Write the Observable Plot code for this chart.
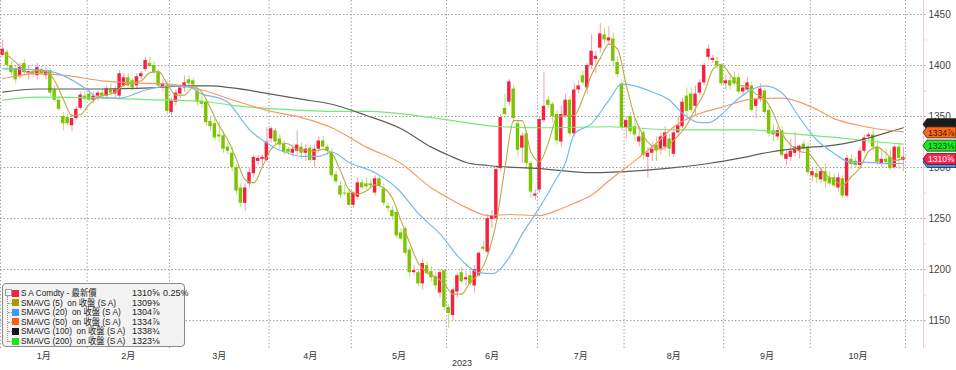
<!DOCTYPE html>
<html><head><meta charset="utf-8">
<script src="https://cdn.jsdelivr.net/npm/d3@7"></script>
<script src="https://cdn.jsdelivr.net/npm/@observablehq/plot@0.6"></script>
<style>
body{margin:0;background:#fff;}
#wrap{position:relative;width:956px;height:370px;overflow:hidden;font-family:"Liberation Sans","Noto Sans CJK TC",sans-serif;}
#legend{position:absolute;left:2px;top:283px;width:183px;height:64px;background:#f3f3f3;border:1px solid #8a8a8a;border-radius:4px;box-sizing:border-box;font-size:9px;color:#222;}
#legend .row{position:absolute;left:0;height:10px;line-height:10px;white-space:pre;width:180px;}
#legend .sq{position:absolute;left:9px;top:1.5px;width:7px;height:7px;}
#legend .lab{position:absolute;left:18px;top:0;transform:scaleX(0.92);transform-origin:0 50%;}
#legend .val{position:absolute;left:129px;top:0;}
#legend .pct{position:absolute;left:160px;top:0;}
#legend .tree{position:absolute;left:4px;top:12px;width:0;height:46px;border-left:1px dotted #999;}
#legend .tick{position:absolute;left:5px;width:4px;height:0;border-top:1px dotted #999;}
#legend .box{position:absolute;left:1.5px;top:5px;width:5px;height:5px;border:1px solid #999;background:#fff;font-size:6px;line-height:5px;text-align:center;color:#666;}
</style></head><body><div id="wrap"></div>
<script>
// ---- data ----
const monthLabels = ["1月","2月","3月","4月","5月","6月","7月","8月","9月","10月"];
const monthDays   = [20,19,23,19,22,21,20,23,20,22];
const yearLabel = "2023";
const yTicks = [1150,1200,1250,1300,1350,1400,1450];

const opens = [1410,1413,1400,1397,1389,1402,1392,1394,1390,1396,1390,1395,1376,1366,1350,1349,1341,1348,1358,1370,
1372,1366,1370,1373,1370,1376,1372,1370,1380,1388,1385,1380,1389,1396,1402,1400,1393,1378,1380,
1354,1364,1372,1378,1386,1385,1375,1365,1364,1345,1343,1332,1331,1320,1314,1300,1280,1265,1284,1294,1306,1308,1307,
1328,1336,1328,1323,1318,1314,1316,1320,1314,1319,1307,1318,1326,1320,1315,1293,1282,1275,1275,
1263,1271,1285,1284,1284,1275,1289,1279,1262,1258,1256,1236,1240,1219,1197,1197,1186,1204,1198,1193,1177,1199,
1163,1155,1178,1197,1190,1194,1184,1194,1222,1217,1249,1250,1299,1358,1364,1377,1343,1319,1333,1304,1272,
1278,1346,1366,1362,1352,1325,1350,1366,1333,1376,1390,1378,1400,1406,1417,1430,1424,1426,1403,1382,
1339,1350,1340,1325,1334,1310,1314,1322,1318,1320,1328,1313,1334,1340,1370,1372,1360,1373,1383,1408,1405,1404,1400,
1382,1385,1388,1388,1374,1376,1380,1360,1367,1375,1356,1336,1330,1336,1308,1310,1314,1316,1323,1320,
1292,1294,1288,1296,1290,1290,1280,1289,1272,1308,1306,1302,1316,1330,1332,1320,1303,1308,1310,1300,1320,1307];
const highs = [1425,1415,1404,1400,1402,1406,1400,1396,1402,1399,1398,1397,1380,1370,1354,1352,1352,1360,1374,1375,
1376,1374,1375,1377,1380,1382,1379,1395,1392,1392,1388,1392,1394,1408,1408,1404,1396,1386,1384,
1368,1376,1381,1390,1390,1388,1378,1370,1367,1350,1348,1345,1335,1324,1320,1303,1284,1284,1300,1312,1312,1312,1339,
1340,1338,1332,1326,1320,1322,1336,1324,1322,1322,1322,1330,1330,1322,1318,1296,1286,1284,1278,
1276,1290,1288,1290,1288,1292,1292,1284,1266,1262,1258,1240,1242,1222,1204,1200,1210,1208,1203,1197,1200,1200,
1166,1182,1196,1202,1198,1200,1204,1218,1228,1254,1258,1302,1352,1372,1386,1380,1346,1334,1336,1306,1278,
1350,1393,1370,1364,1356,1360,1372,1370,1382,1385,1395,1402,1430,1414,1441,1436,1438,1432,1408,1386,
1350,1354,1348,1340,1336,1320,1325,1330,1334,1340,1332,1340,1350,1368,1378,1378,1380,1386,1402,1420,1410,1408,1402,
1390,1390,1394,1392,1380,1388,1384,1368,1382,1378,1360,1342,1340,1340,1316,1328,1335,1322,1326,1324,
1300,1298,1300,1304,1296,1294,1294,1292,1312,1312,1310,1320,1332,1334,1338,1326,1316,1318,1318,1322,1324,1320];
const lows = [1408,1395,1390,1382,1387,1390,1386,1388,1386,1390,1386,1370,1364,1355,1336,1341,1335,1346,1356,1364,
1364,1363,1365,1368,1368,1370,1368,1366,1378,1378,1375,1376,1386,1394,1398,1391,1378,1374,1352,
1350,1360,1368,1374,1380,1378,1360,1358,1340,1336,1326,1325,1314,1312,1296,1274,1261,1257,1280,1290,1302,1300,1305,
1324,1322,1318,1312,1312,1310,1312,1308,1306,1304,1300,1314,1318,1312,1290,1284,1270,1272,1262,
1260,1268,1278,1278,1279,1272,1280,1262,1256,1248,1230,1228,1214,1192,1194,1183,1180,1194,1188,1180,1172,1160,
1142,1150,1172,1186,1184,1184,1177,1192,1218,1215,1240,1248,1296,1348,1360,1344,1310,1304,1298,1270,1268,
1275,1344,1358,1344,1322,1320,1348,1330,1330,1372,1380,1372,1396,1392,1412,1420,1420,1400,1388,1336,
1328,1332,1326,1320,1307,1290,1306,1306,1312,1316,1310,1310,1330,1338,1350,1354,1350,1370,1380,1405,1402,1396,1380,
1376,1376,1380,1372,1370,1374,1354,1348,1364,1352,1330,1325,1326,1310,1302,1306,1310,1308,1316,1292,
1286,1284,1284,1280,1282,1280,1276,1270,1270,1298,1300,1298,1314,1326,1316,1302,1300,1302,1297,1298,1298,1296];
const closes = [1416,1400,1393,1386,1398,1393,1394,1391,1398,1392,1395,1373,1366,1357,1343,1343,1348,1357,1371,1367,
1366,1370,1373,1370,1377,1373,1376,1392,1388,1380,1378,1389,1392,1405,1399,1393,1380,1382,1355,
1366,1373,1378,1383,1382,1381,1364,1362,1344,1340,1329,1330,1318,1316,1300,1277,1265,1280,1295,1310,1309,1310,1325,
1338,1325,1322,1315,1315,1318,1322,1314,1318,1307,1318,1326,1320,1316,1292,1286,1273,1274,1263,
1275,1285,1280,1281,1282,1289,1282,1265,1260,1252,1233,1230,1216,1197,1199,1186,1206,1196,1192,1184,1197,1163,
1157,1180,1194,1188,1192,1186,1200,1216,1220,1250,1252,1298,1349,1352,1384,1348,1317,1331,1304,1276,1274,
1347,1360,1361,1350,1326,1352,1366,1333,1376,1380,1383,1400,1414,1409,1431,1425,1427,1404,1391,1339,
1346,1335,1332,1330,1312,1314,1318,1316,1330,1334,1318,1334,1341,1364,1355,1356,1372,1383,1400,1416,1407,1400,1382,
1385,1380,1382,1374,1378,1383,1356,1367,1377,1354,1333,1332,1336,1312,1313,1316,1320,1321,1318,1295,
1296,1290,1296,1286,1284,1282,1290,1272,1309,1303,1302,1316,1329,1332,1320,1305,1308,1305,1299,1320,1309,1310];

// moving averages (trading-day index, value)
const sma5At = [0,2,4,6,8,10,12,14,16,18,20,22,24,26,28,30,32,34,36,38,40,42,44,46,48,50,52,54,56,58,60,62,64,66,68,70,72,74,76,78,80,82,84,86,88,90,92,94,96,98,100,102,104,106,108,110,112,114,116,118,120,122,124,126,128,130,132,134,136,138,140,142,144,146,148,150,152,154,156,158,160,162,164,166,168,170,172,174,176,178,180,182,184,186,188,190,192,194,196,198,200,202,204,206,208];
const sma5 = [1413,1407,1399,1393,1395,1394,1385,1367,1351,1352,1362,1369,1371,1374,1381,1383,1385,1393,1394,1382,1371,1371,1379,1374,1358,1341,1327,1308,1288,1285,1301,1318,1324,1323,1318,1317,1316,1318,1314,1297,1278,1274,1277,1283,1280,1270,1248,1226,1206,1197,1193,1186,1176,1176,1188,1196,1214,1247,1300,1346,1346,1315,1306,1324,1349,1351,1351,1368,1391,1407,1421,1416,1381,1349,1331,1321,1318,1323,1331,1342,1358,1373,1396,1401,1391,1381,1379,1372,1367,1353,1333,1322,1316,1314,1304,1293,1288,1283,1291,1300,1316,1320,1314,1307,1309];
const sma20At = [0,10,19,22,27,33,39,43,46,50,52,55,57,60,63,66,69,73,76,80,86,91,96,101,106,110,113,117,120,124,128,130,132,136,140,143,146,150,154,157,161,163,167,170,176,180,184,188,192,196,200,204,208];
const sma20 = [1397,1395,1378,1369,1368,1376,1380,1379,1372,1368,1364,1348,1337,1327,1319,1314,1311,1311,1315,1305,1295,1280,1255,1235,1209,1197,1196,1212,1235,1261,1290,1305,1333,1343,1366,1382,1380,1374,1366,1353,1344,1344,1356,1368,1380,1373,1349,1327,1314,1305,1305,1304,1304];
const sma50At = [0,8,15,23,30,38,46,54,62,69,76,84,92,99,103,107,112,117,124,128,132,136,140,147,151,155,161,166,173,180,187,192,198,208];
const sma50 = [1387,1392,1390,1385,1383,1382,1376,1365,1355,1349,1339,1320,1304,1280,1270,1261,1253,1254,1253,1258,1265,1273,1287,1310,1324,1340,1353,1359,1367,1368,1359,1348,1341,1335];
const sma100At = [0,8,23,34,43,48,53,62,69,76,84,92,99,103,107,112,124,136,147,155,163,170,177,184,192,196,200,204,208];
const sma100 = [1374,1377,1377,1378,1380,1380,1378,1372,1367,1362,1351,1338,1320,1312,1305,1302,1299,1295,1297,1300,1304,1309,1315,1319,1322,1325,1329,1334,1339];
const sma200At = [0,8,23,30,38,46,53,61,69,76,84,99,107,115,124,140,155,173,180,188,196,200,208];
const sma200 = [1366,1369,1368,1367,1366,1365,1361,1358,1356,1355,1355,1349,1344,1340,1339,1340,1337,1337,1334,1331,1328,1326,1323];

// legend / tag texts
const seriesNames = ["S A Comdty - 最新價","SMAVG (5)  on 收盤 (S A)","SMAVG (20)  on 收盤 (S A)","SMAVG (50)  on 收盤 (S A)","SMAVG (100)  on 收盤 (S A)","SMAVG (200)  on 收盤 (S A)"];
const lastLabels = ["1310⅝","1309⅜","1304⅞","1334⅞","1338¾","1323⅛"];
const pctChange = "0.25%";
const seriesColors = ["#f5213f","#a59b06","#3d9bf5","#ff5e0e","#151515","#19e619"];
const lineColors  = ["#b9ab45","#79b9f0","#f79a63","#5e5e55","#74ea74"];

// ---- build ----
const RED = "#f8203f", GREEN = "#7cc400", RED_W = "#f59db0", GREEN_W = "#b7df6f";
const N = closes.length;
const candles = d3.range(N).map(i => ({i, o: opens[i], h: highs[i], l: lows[i], c: closes[i], up: closes[i] >= opens[i]}));
const cum = [0]; monthDays.forEach(d => cum.push(cum[cum.length-1] + d));
const bounds = cum.map(c => c - 0.5);
const mids = monthDays.map((d, k) => cum[k] + d / 2 - 0.5);
const pts = (at, vals) => at.map((i, k) => ({i, v: vals[k]}));
const xMin = -0.508, xMax = 212.65;

const chart = Plot.plot({
  width: 956, height: 370,
  marginLeft: 0, marginRight: 33, marginTop: 0, marginBottom: 22,
  style: {background: "transparent", fontFamily: "Liberation Sans, Noto Sans CJK TC, sans-serif", overflow: "visible"},
  x: {domain: [xMin, xMax], axis: null},
  y: {domain: [1122.7, 1463.7], axis: null},
  color: {type: "identity"},
  marks: [
    Plot.ruleY(yTicks, {stroke: "#9a9a9a", strokeDasharray: "1.5,2", strokeWidth: 1, insetRight: -4}),
    Plot.ruleX(bounds, {stroke: "#a5a5a5", strokeDasharray: "1.5,2", strokeWidth: 1}),
    Plot.ruleX([xMax], {stroke: "#f8cdd1", strokeWidth: 1}),
    Plot.ruleY([1125,1175,1225,1275,1325,1375,1425], {x1: xMax, x2: xMax + 0.8, stroke: "#f8cdd1"}),
    Plot.ruleX(candles, {x: "i", y1: "l", y2: "h", stroke: d => d.up ? RED_W : GREEN_W, strokeWidth: 1}),
    Plot.rect(candles, {x1: d => d.i - 0.5, x2: d => d.i + 0.5, y1: "o", y2: d => Math.abs(d.c - d.o) < 1 ? d.o + (d.up ? 1 : -1) : d.c,
      fill: d => d.up ? RED : GREEN, insetLeft: 0.45, insetRight: 0.45}),
    Plot.line(pts(sma200At, sma200), {x: "i", y: "v", stroke: lineColors[4], strokeWidth: 1.2, curve: "monotone-x"}),
    Plot.line(pts(sma100At, sma100), {x: "i", y: "v", stroke: lineColors[3], strokeWidth: 1.2, curve: "monotone-x"}),
    Plot.line(pts(sma50At, sma50), {x: "i", y: "v", stroke: lineColors[2], strokeWidth: 1.2, curve: "monotone-x"}),
    Plot.line(pts(sma20At, sma20), {x: "i", y: "v", stroke: lineColors[1], strokeWidth: 1.2, curve: "monotone-x"}),
    Plot.line(pts(sma5At, sma5), {x: "i", y: "v", stroke: lineColors[0], strokeWidth: 1.1, curve: "monotone-x"}),
    Plot.axisY(yTicks, {anchor: "right", tickSize: 0, tickPadding: 5, fontSize: 10, fill: "#444", label: null, tickFormat: d => String(d)}),
    Plot.axisX(mids, {anchor: "bottom", tickSize: 0, tickPadding: 4, fontSize: 9, fill: "#333", label: null,
      tickFormat: (d, k) => monthLabels[k]}),
    Plot.text([yearLabel], {frameAnchor: "bottom", dy: 17, fontSize: 9, fill: "#333"})
  ]
});

document.getElementById("wrap").appendChild(chart);

// value tags on the right, placed with the chart's y scale
const ys = chart.scale("y");
const tagOrder = [4, 3, 5, 2, 0];
const tagFill = {0: "#ff1f4c", 2: "#3d9bf5", 3: "#ff6a10", 4: "#1b1b1b", 5: "#18f018"};
const tagText = {0: "#ffffff", 2: "#000", 3: "#3a1800", 4: "#ddd", 5: "#033"};
const tagY = {4: 1342, 3: 1334, 5: 1321, 2: 1305, 0: 1308};
const svg = d3.select(chart);
const g = svg.append("g").attr("font-family", "Liberation Sans, sans-serif").attr("font-size", 8.5).attr("text-anchor", "start");
tagOrder.forEach(k => {
  const yc = ys.apply(tagY[k]);
  const x0 = 923, x1 = 927, x2 = 956, h = 5.5;
  g.append("path").attr("d", `M${x0},${yc} L${x1},${yc-h} L${x2},${yc-h} L${x2},${yc+h} L${x1},${yc+h} Z`)
    .attr("fill", tagFill[k]).attr("stroke", "#222").attr("stroke-width", 0.8);
  if (k !== 4 && k !== 2) {
    g.append("text").attr("x", 928).attr("y", yc + 3.2)
      .attr("fill", tagText[k]).text(lastLabels[k]);
  }
});

// legend overlay
const leg = d3.select("#wrap").append("div").attr("id", "legend");
leg.append("div").attr("class", "tree");
leg.append("div").attr("class", "box").text("-");
seriesNames.forEach((name, k) => {
  const top = 4 + k * 9.6;
  if (k > 0) leg.append("div").attr("class", "tick").style("top", (top + 5) + "px");
  const r = leg.append("div").attr("class", "row").style("top", top + "px");
  r.append("div").attr("class", "sq").style("background", seriesColors[k]);
  r.append("div").attr("class", "lab").text(name);
  r.append("div").attr("class", "val").text(lastLabels[k]);
  if (k === 0) r.append("div").attr("class", "pct").text(pctChange);
});
</script></body></html>
